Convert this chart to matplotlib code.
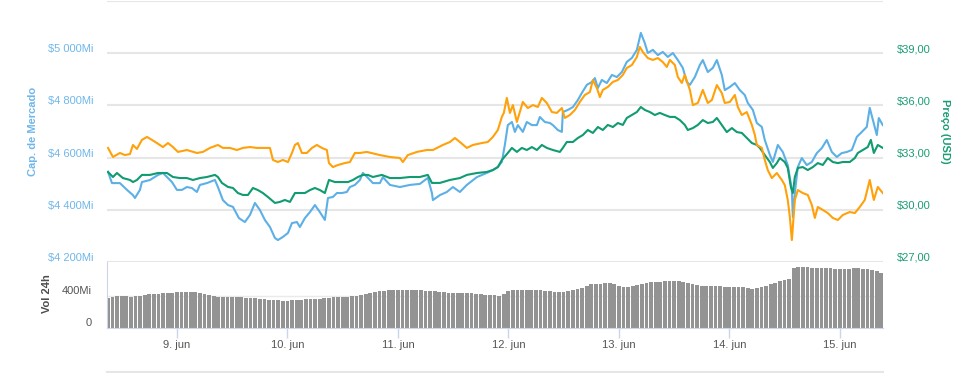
import matplotlib
matplotlib.use("Agg")
import matplotlib.pyplot as plt
from matplotlib.transforms import ScaledTranslation
from matplotlib.lines import Line2D
import numpy as np

plt.rcParams['font.family'] = ['Liberation Sans', 'DejaVu Sans']

# ---------------- data (x = day of June) ----------------
x_tick_days = [9, 10, 11, 12, 13, 14, 15]
x_tick_labels = ['9. jun', '10. jun', '11. jun', '12. jun', '13. jun', '14. jun', '15. jun']

cap_ticks = [4200, 4400, 4600, 4800, 5000]
cap_tick_labels = ['$4 200Mi', '$4 400Mi', '$4 600Mi', '$4 800Mi', '$5 000Mi']
price_ticks = [27, 30, 33, 36, 39]
price_tick_labels = ['$27,00', '$30,00', '$33,00', '$36,00', '$39,00']
vol_ticks = [0, 400]
vol_tick_labels = ['0', '400Mi']

cap_days = [8.376, 8.412, 8.484, 8.548, 8.602, 8.620, 8.665, 8.683, 8.756, 8.828,
            8.873, 8.910, 8.955, 9.000, 9.045, 9.090, 9.136, 9.181, 9.208, 9.271,
            9.344, 9.371, 9.416, 9.462, 9.507, 9.561, 9.615, 9.661, 9.706, 9.751,
            9.796, 9.842, 9.887, 9.914, 9.959, 10.005, 10.041, 10.086, 10.113, 10.158,
            10.204, 10.249, 10.294, 10.339, 10.367, 10.412, 10.448, 10.493, 10.538, 10.566,
            10.611, 10.656, 10.683, 10.729, 10.774, 10.837, 10.864, 10.928, 11.018, 11.109,
            11.199, 11.271, 11.308, 11.317, 11.380, 11.443, 11.498, 11.561, 11.624, 11.715,
            11.805, 11.860, 11.905, 11.941, 11.968, 11.995, 12.032, 12.059, 12.086, 12.131,
            12.167, 12.213, 12.258, 12.285, 12.330, 12.376, 12.403, 12.448, 12.484, 12.493,
            12.538, 12.584, 12.629, 12.665, 12.710, 12.756, 12.783, 12.810, 12.846, 12.891,
            12.937, 12.982, 13.027, 13.072, 13.118, 13.163, 13.199, 13.235, 13.262, 13.308,
            13.353, 13.398, 13.443, 13.489, 13.534, 13.579, 13.615, 13.643, 13.688, 13.733,
            13.760, 13.805, 13.851, 13.887, 13.932, 13.959, 14.005, 14.050, 14.095, 14.140,
            14.167, 14.213, 14.249, 14.294, 14.321, 14.367, 14.394, 14.439, 14.484, 14.529,
            14.566, 14.575, 14.593, 14.620, 14.656, 14.701, 14.747, 14.792, 14.837, 14.882,
            14.928, 14.973, 15.018, 15.063, 15.109, 15.154, 15.199, 15.244, 15.271, 15.299,
            15.335, 15.353, 15.389]
cap_values = [4545, 4502, 4502, 4476, 4456, 4445, 4476, 4506, 4514, 4533,
              4541, 4525, 4506, 4476, 4476, 4487, 4483, 4468, 4495, 4502,
              4514, 4487, 4437, 4418, 4411, 4368, 4353, 4380, 4426, 4399,
              4361, 4334, 4292, 4284, 4296, 4311, 4349, 4353, 4334, 4368,
              4391, 4418, 4391, 4361, 4445, 4449, 4464, 4464, 4468, 4487,
              4495, 4514, 4541, 4522, 4502, 4502, 4525, 4495, 4487, 4495,
              4499, 4522, 4464, 4437, 4456, 4468, 4487, 4468, 4495, 4525,
              4541, 4552, 4564, 4583, 4648, 4724, 4736, 4698, 4724, 4698,
              4736, 4724, 4724, 4755, 4736, 4732, 4724, 4705, 4698, 4774,
              4782, 4793, 4820, 4847, 4878, 4889, 4904, 4866, 4897, 4885,
              4916, 4908, 4927, 4966, 4981, 5012, 5077, 5038, 5000, 5012,
              4992, 5004, 4985, 5000, 4973, 4943, 4889, 4878, 4908, 4954,
              4973, 4927, 4943, 4973, 4916, 4858, 4870, 4885, 4858, 4839,
              4809, 4782, 4732, 4717, 4667, 4610, 4583, 4648, 4621, 4571,
              4476, 4372, 4464, 4564, 4598, 4571, 4583, 4617, 4636, 4667,
              4621, 4602, 4617, 4621, 4629, 4679, 4698, 4717, 4790, 4744,
              4686, 4751, 4724]

usd_days = [8.376, 8.421, 8.457, 8.511, 8.575, 8.602, 8.638, 8.683, 8.756, 8.828,
            8.910, 8.964, 9.027, 9.090, 9.145, 9.208, 9.271, 9.344, 9.371, 9.407,
            9.462, 9.507, 9.552, 9.597, 9.643, 9.688, 9.733, 9.778, 9.824, 9.887,
            9.932, 9.977, 10.023, 10.068, 10.113, 10.158, 10.204, 10.249, 10.294, 10.339,
            10.376, 10.430, 10.493, 10.548, 10.593, 10.638, 10.683, 10.729, 10.774, 10.855,
            10.928, 11.018, 11.109, 11.199, 11.271, 11.308, 11.380, 11.471, 11.561, 11.624,
            11.715, 11.805, 11.860, 11.905, 11.941, 11.995, 12.032, 12.077, 12.122, 12.167,
            12.213, 12.258, 12.303, 12.348, 12.403, 12.466, 12.493, 12.529, 12.584, 12.629,
            12.674, 12.719, 12.765, 12.810, 12.855, 12.900, 12.946, 12.991, 13.036, 13.072,
            13.118, 13.163, 13.199, 13.235, 13.281, 13.326, 13.371, 13.416, 13.462, 13.507,
            13.552, 13.597, 13.624, 13.670, 13.715, 13.760, 13.805, 13.851, 13.887, 13.932,
            13.977, 14.023, 14.068, 14.113, 14.158, 14.204, 14.249, 14.276, 14.321, 14.367,
            14.394, 14.430, 14.457, 14.502, 14.529, 14.557, 14.575, 14.593, 14.620, 14.665,
            14.710, 14.756, 14.801, 14.846, 14.891, 14.937, 14.982, 15.027, 15.090, 15.136,
            15.163, 15.208, 15.253, 15.281, 15.308, 15.344, 15.389]
usd_values = [32.17, 31.88, 32.11, 31.82, 31.71, 31.59, 31.71, 32.00, 32.00, 32.11,
              32.11, 31.88, 31.82, 31.82, 31.71, 31.82, 31.88, 32.00, 31.88, 31.54,
              31.31, 31.25, 30.96, 30.85, 30.85, 31.25, 31.13, 30.96, 30.73, 30.39,
              30.45, 30.56, 30.45, 30.96, 30.96, 30.96, 31.13, 31.25, 31.13, 30.96,
              31.71, 31.59, 31.59, 31.59, 31.71, 31.88, 32.00, 32.00, 31.88, 32.00,
              31.82, 31.82, 31.88, 31.88, 32.00, 31.54, 31.54, 31.71, 31.82, 32.00,
              32.11, 32.17, 32.28, 32.45, 32.86, 33.26, 33.55, 33.32, 33.55, 33.43,
              33.60, 33.43, 33.72, 33.55, 33.43, 33.32, 33.55, 33.89, 33.89, 34.12,
              34.29, 34.58, 34.41, 34.75, 34.58, 34.87, 34.75, 34.98, 34.87, 35.27,
              35.44, 35.61, 35.90, 35.73, 35.61, 35.44, 35.56, 35.44, 35.33, 35.33,
              35.15, 34.87, 34.58, 34.69, 34.87, 35.15, 34.98, 35.04, 35.27, 34.87,
              34.46, 34.69, 34.46, 34.41, 34.12, 33.83, 33.72, 33.55, 33.14, 32.74,
              32.40, 32.68, 32.97, 32.74, 32.40, 31.31, 30.96, 31.88, 32.40, 32.45,
              32.28, 32.45, 32.68, 32.57, 32.97, 32.74, 32.68, 32.74, 32.74, 32.97,
              33.26, 33.43, 33.60, 34.01, 33.26, 33.72, 33.55]

btc_days = [8.376, 8.421, 8.484, 8.529, 8.575, 8.602, 8.638, 8.683, 8.729, 8.774,
            8.819, 8.873, 8.919, 8.964, 9.009, 9.090, 9.181, 9.235, 9.299, 9.371,
            9.416, 9.480, 9.543, 9.597, 9.661, 9.724, 9.778, 9.842, 9.869, 9.914,
            9.959, 10.005, 10.041, 10.068, 10.095, 10.131, 10.176, 10.222, 10.267, 10.312,
            10.357, 10.376, 10.412, 10.457, 10.520, 10.566, 10.611, 10.656, 10.719, 10.837,
            10.928, 11.018, 11.045, 11.090, 11.172, 11.262, 11.317, 11.407, 11.471, 11.516,
            11.561, 11.624, 11.679, 11.760, 11.814, 11.860, 11.905, 11.941, 11.959, 11.986,
            12.014, 12.041, 12.077, 12.104, 12.131, 12.176, 12.222, 12.267, 12.303, 12.348,
            12.394, 12.439, 12.484, 12.511, 12.557, 12.602, 12.647, 12.692, 12.738, 12.765,
            12.801, 12.828, 12.855, 12.900, 12.946, 12.991, 13.036, 13.072, 13.118, 13.163,
            13.190, 13.217, 13.262, 13.308, 13.353, 13.398, 13.434, 13.462, 13.507, 13.534,
            13.570, 13.597, 13.643, 13.670, 13.715, 13.760, 13.805, 13.842, 13.887, 13.932,
            13.959, 14.005, 14.050, 14.077, 14.113, 14.158, 14.204, 14.231, 14.249, 14.294,
            14.321, 14.348, 14.385, 14.430, 14.475, 14.502, 14.529, 14.548, 14.566, 14.575,
            14.593, 14.620, 14.665, 14.710, 14.747, 14.774, 14.801, 14.846, 14.891, 14.937,
            14.982, 15.027, 15.090, 15.136, 15.181, 15.226, 15.271, 15.308, 15.344, 15.389]
btc_values = [33.55, 33.03, 33.26, 33.14, 33.20, 33.72, 33.49, 34.01, 34.18, 34.01,
              33.83, 33.60, 33.83, 33.60, 33.32, 33.43, 33.26, 33.32, 33.55, 33.72,
              33.55, 33.55, 33.43, 33.55, 33.60, 33.55, 33.55, 33.55, 32.86, 32.74,
              32.86, 32.74, 33.26, 33.72, 33.83, 33.26, 33.26, 33.55, 33.72, 33.55,
              33.43, 32.68, 32.45, 32.57, 32.68, 32.74, 33.26, 33.26, 33.32, 33.14,
              33.03, 32.97, 32.74, 33.14, 33.32, 33.43, 33.43, 33.72, 33.89, 34.12,
              33.89, 33.55, 33.72, 33.83, 33.89, 34.18, 34.58, 35.33, 35.56, 36.42,
              35.56, 36.01, 35.04, 35.61, 36.19, 35.84, 36.01, 35.90, 36.42, 36.13,
              35.61, 35.56, 35.84, 35.27, 35.44, 35.73, 36.19, 36.59, 36.76, 37.45,
              36.99, 36.47, 36.88, 37.05, 37.34, 37.45, 37.74, 38.14, 38.31, 38.77,
              39.35, 39.06, 38.71, 38.60, 38.71, 38.48, 38.20, 38.60, 38.31, 37.62,
              37.28, 37.74, 36.88, 36.01, 36.13, 36.88, 36.13, 36.30, 37.16, 36.70,
              36.13, 36.19, 36.59, 35.90, 35.44, 35.61, 34.87, 34.29, 33.72, 33.55,
              32.86, 32.28, 31.82, 32.11, 31.71, 31.42, 30.56, 29.58, 28.26, 29.01,
              30.56, 31.13, 30.96, 30.85, 30.27, 29.53, 30.16, 29.99, 29.81, 29.53,
              29.41, 29.70, 29.87, 29.81, 30.16, 30.56, 31.71, 30.56, 31.31, 30.96]

# hourly 24h volume (Mi), first bar at 8.375 (8 jun 09:00)
vol_start_day = 8.375
vol_values = [380, 390, 400, 398, 395, 392, 395, 405, 415, 425,
              428, 430, 432, 433, 440, 445, 450, 450, 448, 445,
              442, 430, 415, 400, 390, 388, 388, 388, 386, 383,
              381, 379, 373, 367, 361, 356, 351, 346, 341, 338,
              344, 350, 355, 357, 360, 362, 366, 372, 378, 383,
              385, 387, 388, 395, 405, 418, 430, 440, 450, 458,
              467, 470, 472, 474, 475, 474, 472, 471, 469, 467,
              465, 461, 455, 449, 443, 442, 442, 442, 442, 436,
              430, 424, 418, 412, 407, 402, 430, 458, 475, 476,
              477, 478, 477, 474, 471, 468, 460, 452, 447, 455,
              465, 475, 486, 505, 530, 547, 551, 554, 557, 558,
              550, 525, 508, 518, 528, 540, 553, 565, 570, 574,
              577, 582, 587, 591, 585, 575, 565, 552, 538, 528,
              527, 526, 524, 520, 517, 513, 513, 513, 507, 498,
              490, 500, 512, 530, 548, 567, 588, 601, 607, 745,
              757, 763, 760, 755, 752, 750, 748, 746, 740, 733,
              738, 742, 746, 745, 739, 733, 726, 710, 690]

# ---------------- styling ----------------
C_CAP = '#5cb0e6'
C_USD = '#109b70'
C_BTC = '#ffa10a'
C_CAP_TXT = '#6fb7ea'
C_USD_TXT = '#1a9d75'
C_GRID = '#e6e6e6'
C_AXIS = '#ccd6eb'
C_DARK = '#555555'

W, H = 960, 373
fig = plt.figure(figsize=(9.6, 3.73), dpi=100)


def fx(px):
    return px / W


def fy(py):
    return 1 - py / H


L, R = 107, 883
XMIN, XMAX = 8.367, 15.391

ax = fig.add_axes([fx(L), fy(262), (R - L) / W, (262 - 0.75) / H])
axv = fig.add_axes([fx(L), fy(328), (R - L) / W, 66 / H])

# main panel
ax.set_xlim(XMIN, XMAX)
ax.set_ylim(4200, 5200)
ax.set_yticks(cap_ticks + [5200])
ax.set_yticklabels(cap_tick_labels + [''])
ax.grid(axis='y', color=C_GRID, lw=1.5, zorder=0)
ax.set_xticks([])
for s in ax.spines.values():
    s.set_visible(False)
ax.tick_params(axis='y', length=0, pad=9.5, labelsize=8, labelcolor=C_CAP_TXT)
ax.plot(cap_days, cap_values, color=C_CAP, lw=1.5, zorder=3)

ax2 = ax.twinx()
ax2.set_ylim(27, 42)
ax2.set_yticks(price_ticks)
ax2.set_yticklabels(price_tick_labels)
ax2.tick_params(axis='y', length=0, pad=10, labelsize=8, labelcolor=C_USD_TXT)
for s in ax2.spines.values():
    s.set_visible(False)
ax2.plot(usd_days, usd_values, color=C_USD, lw=1.5, zorder=3)

ax3 = ax.twinx()
ax3.set_ylim(27, 42)
ax3.set_axis_off()
ax3.plot(btc_days, btc_values, color=C_BTC, lw=1.5, zorder=3)

offset = ScaledTranslation(0, 0.05, fig.dpi_scale_trans)
for a in (ax, ax2):
    for lbl in a.get_yticklabels():
        lbl.set_transform(lbl.get_transform() + offset)

# volume panel
vol_days = vol_start_day + np.arange(len(vol_values)) / 24.0
axv.set_xlim(XMIN, XMAX)
axv.set_ylim(0, 825)
axv.bar(vol_days, vol_values, width=0.82 / 24, color='#939393', zorder=2, linewidth=0)
axv.set_yticks(vol_ticks)
axv.set_yticklabels(vol_tick_labels)
axv.grid(axis='y', color='#dcdcdc', lw=1.0, zorder=3, alpha=0.6)
axv.tick_params(axis='y', length=0, pad=11, labelsize=8, labelcolor=C_DARK)
axv.set_xticks(x_tick_days)
axv.set_xticklabels(x_tick_labels)
axv.tick_params(axis='x', length=7, width=1, color=C_AXIS, labelsize=8,
                labelcolor=C_DARK, pad=2)
axv.spines['top'].set_visible(False)
axv.spines['right'].set_visible(False)
axv.spines['left'].set_color(C_AXIS)
axv.spines['bottom'].set_color(C_AXIS)
axv.spines['left'].set_zorder(4)
axv.spines['bottom'].set_zorder(4)
offv = ScaledTranslation(0, 0.06, fig.dpi_scale_trans)
for lbl in axv.get_yticklabels():
    lbl.set_transform(lbl.get_transform() + offv)

# axis titles
fig.text(fx(33), fy(131), 'Cap. de Mercado', rotation=90, ha='center', va='center',
         fontsize=8, fontweight='bold', color=C_CAP_TXT)
fig.text(fx(945), fy(131), 'Preço (USD)', rotation=270, ha='center', va='center',
         fontsize=8, fontweight='bold', color=C_USD_TXT)
fig.text(fx(47), fy(294), 'Vol 24h', rotation=90, ha='center', va='center',
         fontsize=8, fontweight='bold', color='#4d4d4d')

# bottom separator line
fig.add_artist(Line2D([fx(L), fx(R)], [fy(372), fy(372)], color=C_GRID, lw=1.5,
                      transform=fig.transFigure))

fig.savefig('out.png', dpi=100)
